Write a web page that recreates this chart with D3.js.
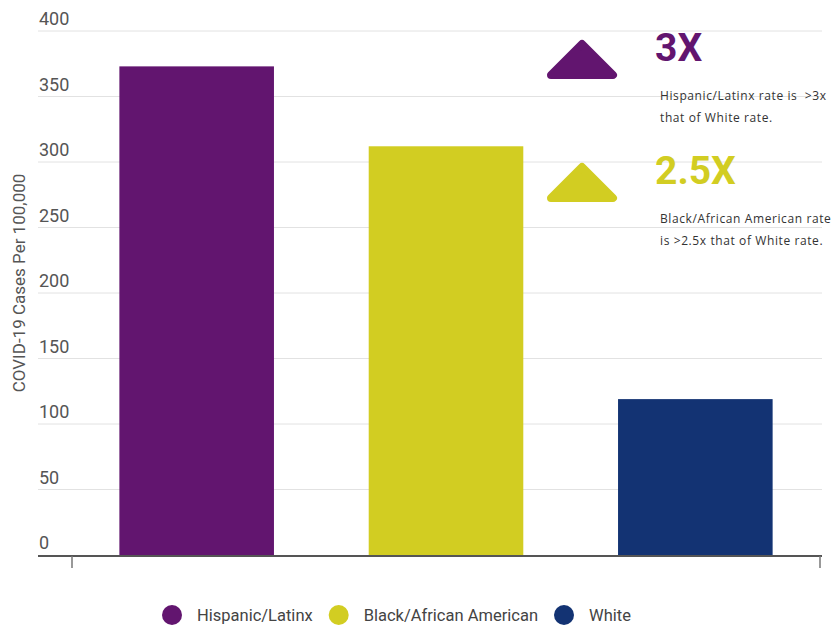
<!DOCTYPE html>
<html>
<head>
<meta charset="utf-8">
<script src="https://cdn.jsdelivr.net/npm/d3@7"></script>
<style>
  body { margin: 0; background: #fff; }
  svg { display: block; font-family: Roboto, "Noto Sans", sans-serif; }
</style>
</head>
<body>
<div id="chart"></div>
<script>
const categories = ['Hispanic/Latinx', 'Black/African American', 'White'];
const rates = [373, 312, 119];
const colors = ['#62156f', '#d2cd22', '#133373'];
const yTicks = [0, 50, 100, 150, 200, 250, 300, 350, 400];

// callouts on the right
const calloutLabels = ['3X', '2.5X'];
const calloutColors = ['#62156f', '#d2cd22'];
const calloutNotes = [
  ['Hispanic/Latinx rate is  >3x', 'that of White rate.'],
  ['Black/African American rate', 'is >2.5x that of White rate.']
];

const width = 835, height = 626;
const svg = d3.select('#chart').append('svg')
  .attr('width', width).attr('height', height);

const x = d3.scaleBand().domain(categories).range([72, 820])
  .paddingInner(0.38).paddingOuter(0.19);
const y = d3.scaleLinear().domain([0, 400]).range([555, 31]);

// gridlines
svg.append('g').selectAll('line').data(yTicks.filter(d => d > 0)).enter().append('line')
  .attr('x1', 38).attr('x2', 822)
  .attr('y1', d => y(d)).attr('y2', d => y(d))
  .attr('stroke', '#e2e2e2').attr('stroke-width', 1);

// y tick labels sit above the lines
svg.append('g').selectAll('text').data(yTicks).enter().append('text')
  .attr('x', 39).attr('y', d => y(d) - 6)
  .attr('font-size', 18).attr('fill', '#555')
  .text(d => d);

// bars
svg.append('g').selectAll('rect').data(rates).enter().append('rect')
  .attr('x', (d, i) => x(categories[i]))
  .attr('width', x.bandwidth())
  .attr('y', d => y(d))
  .attr('height', d => y(0) - y(d))
  .attr('fill', (d, i) => colors[i]);

// x axis line + end ticks
svg.append('line').attr('x1', 38).attr('x2', 822)
  .attr('y1', y(0) + 1).attr('y2', y(0) + 1)
  .attr('stroke', '#555').attr('stroke-width', 2);
const [r0, r1] = x.range();
svg.append('g').selectAll('line').data([r0, r1]).enter().append('line')
  .attr('x1', d => d).attr('x2', d => d)
  .attr('y1', y(0) + 1).attr('y2', y(0) + 13)
  .attr('stroke', '#777').attr('stroke-width', 1.5);

// y axis title
svg.append('text')
  .attr('transform', `translate(25,${283}) rotate(-90)`)
  .attr('text-anchor', 'middle')
  .attr('font-size', 17).attr('fill', '#555')
  .text('COVID-19 Cases Per 100,000');

// callouts
const callTop = [40, 163];
calloutLabels.forEach((lab, i) => {
  const t = callTop[i];
  svg.append('polygon')
    .attr('points', `551,${t + 35} 582,${t + 4} 613,${t + 35}`)
    .attr('fill', calloutColors[i]).attr('stroke', calloutColors[i])
    .attr('stroke-width', 8).attr('stroke-linejoin', 'round');
  svg.append('text')
    .attr('x', 655).attr('y', t + 21)
    .attr('font-size', 39).attr('font-weight', 'bold')
    .attr('fill', calloutColors[i])
    .text(lab);
  calloutNotes[i].forEach((line, j) => {
    svg.append('text')
      .attr('x', 660).attr('y', t + 60 + j * 22)
      .attr('font-family', '"Open Sans", sans-serif')
      .attr('font-size', 12).attr('fill', '#333')
      .attr('letter-spacing', 0.6)
      .attr('xml:space', 'preserve')
      .style('white-space', 'pre')
      .text(line);
  });
});

// legend
const legend = svg.append('g');
let lx = 162;
categories.forEach((c, i) => {
  legend.append('circle').attr('cx', lx + 10).attr('cy', 615).attr('r', 10)
    .attr('fill', colors[i]);
  const t = legend.append('text').attr('x', lx + 35).attr('y', 621)
    .attr('font-size', 16.5).attr('fill', '#444').text(c);
  lx += 35 + t.node().getComputedTextLength() + 16;
});
</script>
</body>
</html>
